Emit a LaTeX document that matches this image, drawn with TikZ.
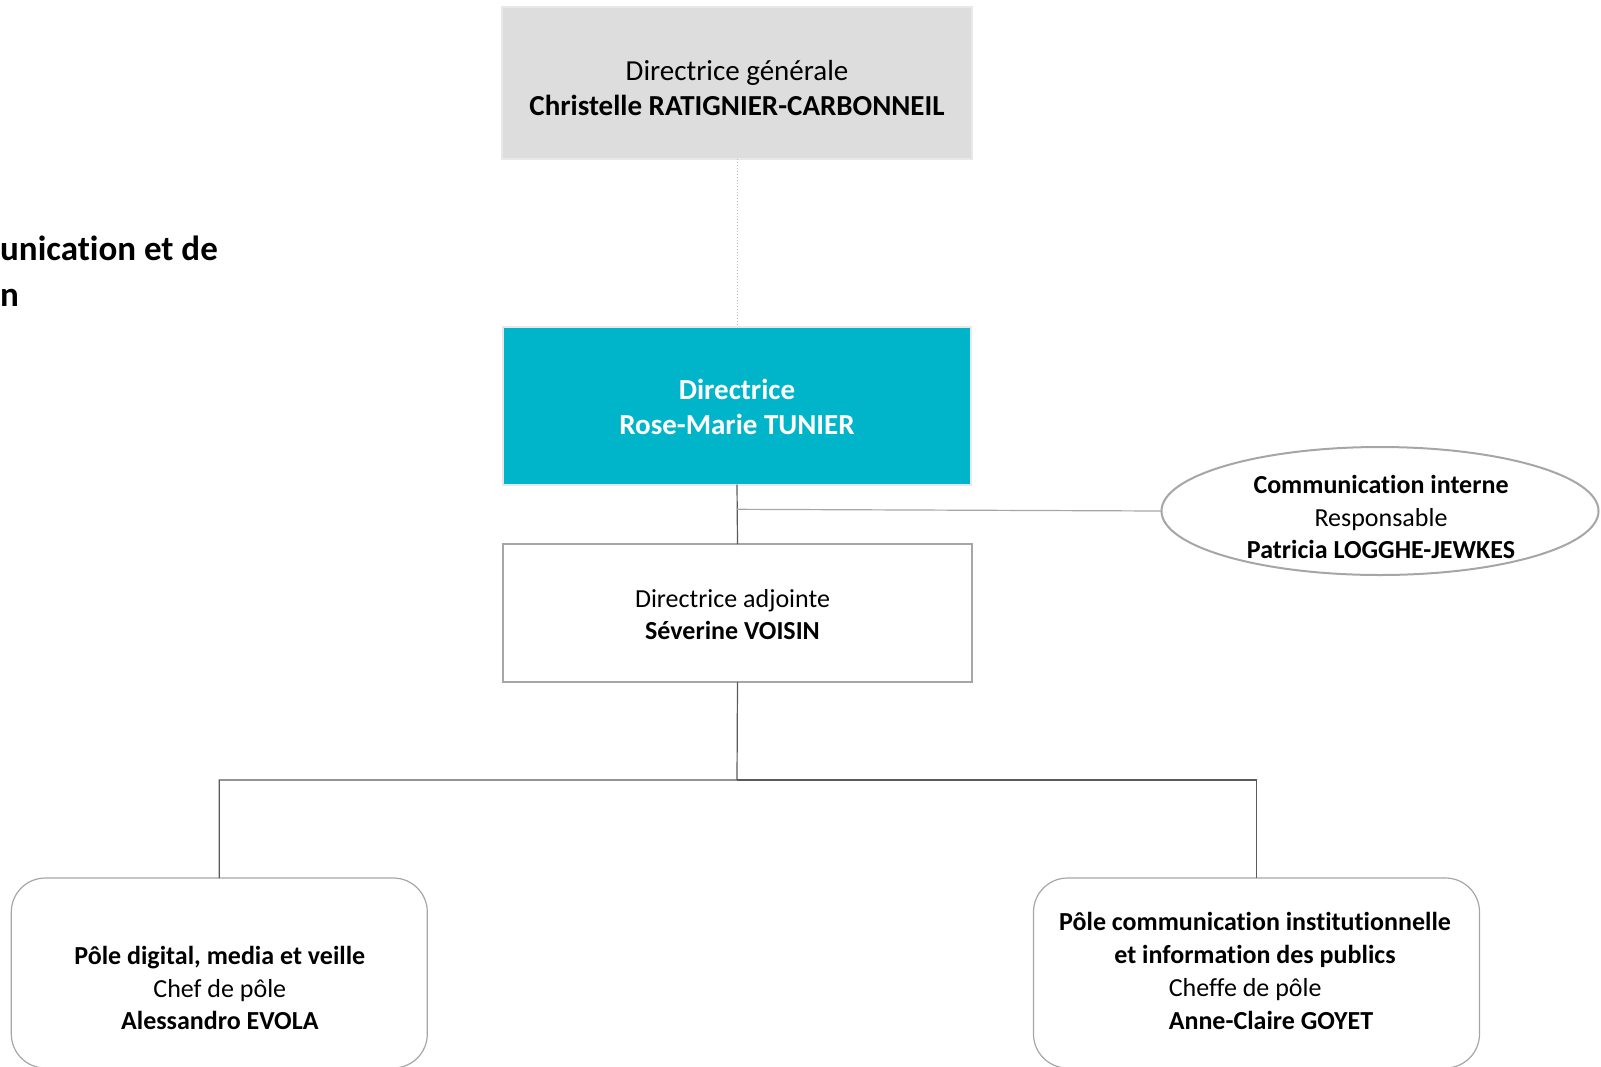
\documentclass[tikz,border=0pt]{standalone}
\usepackage{fontspec}
\setmainfont{Carlito}[Ligatures={NoCommon}]
\usetikzlibrary{shapes.geometric}
\definecolor{cyanbox}{HTML}{00B5C9}
\definecolor{grayfill}{HTML}{DDDDDD}
\definecolor{grayedge}{HTML}{E8E8E8}
\definecolor{lineg}{HTML}{A6A6A6}
\definecolor{darkln}{HTML}{5A5A5A}
\definecolor{dotg}{HTML}{BDBDBD}
\newcommand\fszA{\fontsize{29}{35.6}\selectfont}
\newcommand\fszB{\fontsize{26}{32.3}\selectfont}
\newcommand\fszT{\fontsize{35}{46}\selectfont}
\tikzset{
  boxshape/.style={draw, rectangle, inner sep=0pt, outer sep=0pt},
  topbox/.style={boxshape, fill=grayfill, draw=grayedge, line width=1.5pt},
  dirbox/.style={boxshape, fill=cyanbox, draw=grayedge, line width=2pt},
  adjbox/.style={boxshape, fill=white, draw=lineg, line width=1.2pt},
  polebox/.style={boxshape, fill=white, draw=lineg, line width=1.2pt, rounded corners=34pt},
  ellbox/.style={draw=lineg, ellipse, line width=2pt, inner sep=0pt, outer sep=0pt},
  txt/.style={inner sep=0pt, align=center, text=black},
  conn/.style={draw=darkln, line width=1.2pt},
  connlight/.style={draw=lineg, line width=1.2pt},
  conndot/.style={draw=dotg, line width=1pt, dotted}
}
\begin{document}
\begin{tikzpicture}[x=1pt,y=-1pt]
\useasboundingbox (0,0) rectangle (1601,1066);
% boxes
\node[topbox, minimum width=470pt, minimum height=152pt] (dg) at (737,83) {};
\node[dirbox, minimum width=468pt, minimum height=158pt] (dir) at (737,405.5) {};
\node[adjbox, minimum width=469pt, minimum height=138pt] (adj) at (737.5,613) {};
\node[ellbox, minimum width=437pt, minimum height=128pt] (ci) at (1380,511) {};
\node[polebox, minimum width=416pt, minimum height=190pt] (pl) at (219.3,973) {};
\node[polebox, minimum width=446pt, minimum height=190pt] (pr) at (1256.5,973) {};
% texts
\node[txt, font=\fszA] (dgt) at (737,88) {Directrice générale\\\textbf{Christelle RATIGNIER-CARBONNEIL}};
\node[txt, font=\fszA, text=white] (dirt) at (737,407) {\textbf{Directrice}\\\textbf{Rose-Marie TUNIER}};
\node[txt, font=\fszB] (adjt) at (732.5,614.5) {Directrice adjointe\\\textbf{Séverine VOISIN}};
\node[txt, font=\fszB] (cit) at (1381,517) {\textbf{Communication interne}\\Responsable\\\textbf{Patricia LOGGHE-JEWKES}};
\node[txt, font=\fszB] (plt) at (219.8,988) {\textbf{Pôle digital, media et veille}\\Chef de pôle\\\textbf{Alessandro EVOLA}};
\node[txt, font=\fszB] (prt1) at (1255,940) {\textbf{Pôle communication institutionnelle}\\\textbf{et information des publics}};
\node[txt, font=\fszB, align=left, anchor=west] (prt2) at (1168.6,1004) {Cheffe de pôle\\\textbf{Anne-Claire GOYET}};
\node[txt, font=\fszT, align=left, anchor=west] (title) at (0,271.4) {\textbf{unication et de}\\\textbf{n}};
% connectors
\draw[conndot] (dg.south) -- (dir.north);
\draw[conn] (dir.south) -- (adj.north);
\coordinate (br) at (737,509.3);
\draw[connlight] (br) -- (ci.west);
\coordinate (bus) at (737,780);
\draw[conn] (adj.south) -- (bus) -| (pl.north);
\draw[conn] (bus) -| (pr.north);
\end{tikzpicture}
\end{document}
